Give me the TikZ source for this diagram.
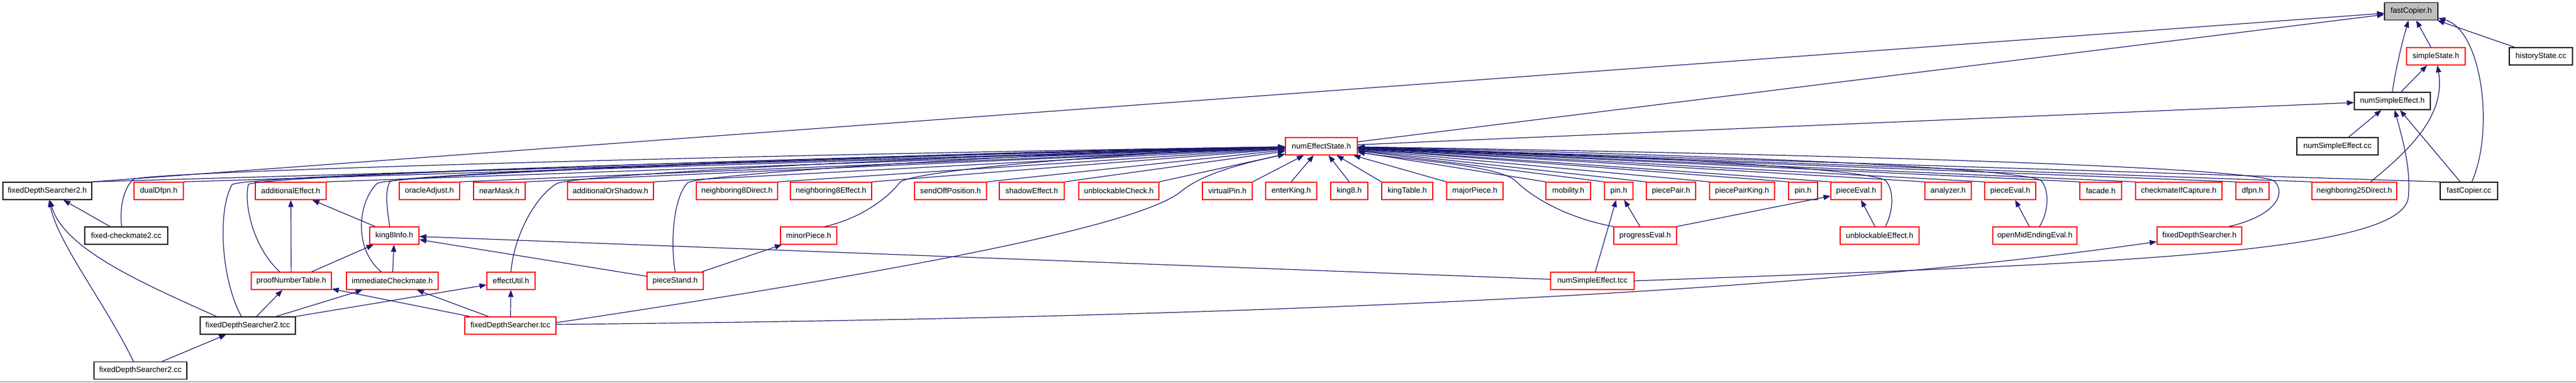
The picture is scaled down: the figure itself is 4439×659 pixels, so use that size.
\documentclass[tikz,border=0pt]{standalone}
\usepackage{fontspec}
\setmainfont{Liberation Sans}
\usetikzlibrary{arrows.meta}
\definecolor{edgeblue}{RGB}{25,25,112}
\definecolor{boxred}{RGB}{255,0,0}
\definecolor{boxgray}{RGB}{191,191,191}
\newcommand{\mybox}[5]{\node[#1,minimum width=#3pt] (#2) at (#4) {#5};}
\tikzset{
  fbox/.style={rectangle, minimum height=30pt, inner sep=0pt, fill=white, line width=1.4pt,
    font=\fontsize{13.3}{15}\selectfont},
  redbox/.style={fbox, draw=boxred},
  blkbox/.style={fbox, draw=black},
  graybox/.style={fbox, draw=black, fill=boxgray},
  edge/.style={draw=edgeblue, line width=1.2pt, -{Triangle[length=12pt,width=9pt]}}
}
\begin{document}
\begin{tikzpicture}[x=1pt,y=1pt]
\useasboundingbox[fill=white] (0,0) rectangle (4439,-659);
\draw[black!30, line width=1.5pt] (0,-658) -- (4439,-658);
% top nodes
\mybox{graybox}{fch}{92}{4155,-19.5}{fastCopier.h}
\mybox{redbox}{ss}{101}{4197.5,-97}{simpleState.h}
\mybox{blkbox}{hs}{109}{4378.5,-97}{historyState.cc}
\mybox{blkbox}{nseh}{131}{4122.5,-174}{numSimpleEffect.h}
\mybox{redbox}{nes}{124}{2277,-252}{numEffectState.h}
\mybox{blkbox}{nsecc}{140}{4028,-252}{numSimpleEffect.cc}
% row E
\mybox{blkbox}{fdstwoh}{153}{81.5,-329}{fixedDepthSearcher2.h}
\mybox{redbox}{dualdfpn}{85}{273.5,-329}{dualDfpn.h}
\mybox{redbox}{addeff}{122}{501,-329}{additionalEffect.h}
\mybox{redbox}{oracle}{104}{740,-329}{oracleAdjust.h}
\mybox{redbox}{nearmask}{89}{860.5,-329}{nearMask.h}
\mybox{redbox}{addshadow}{148}{1052,-329}{additionalOrShadow.h}
\mybox{redbox}{nbdirect}{140}{1270,-329}{neighboring8Direct.h}
\mybox{redbox}{nbeffect}{140}{1432,-329}{neighboring8Effect.h}
\mybox{redbox}{sendoff}{124}{1638,-329}{sendOffPosition.h}
\mybox{redbox}{shadoweff}{112}{1778,-329}{shadowEffect.h}
\mybox{redbox}{unbcheck}{138}{1928,-329}{unblockableCheck.h}
\mybox{redbox}{vpin}{86}{2115,-329}{virtualPin.h}
\mybox{redbox}{enterking}{88}{2225,-329}{enterKing.h}
\mybox{redbox}{kingeight}{64}{2325,-329}{king8.h}
\mybox{redbox}{kingtable}{88}{2425,-329}{kingTable.h}
\mybox{redbox}{majorpiece}{97}{2541.5,-329}{majorPiece.h}
\mybox{redbox}{mobility}{77}{2702.5,-329}{mobility.h}
\mybox{redbox}{pinA}{49}{2789.5,-329}{pin.h}
\mybox{redbox}{piecepair}{85}{2879.5,-329}{piecePair.h}
\mybox{redbox}{piecepairking}{112}{3002,-329}{piecePairKing.h}
\mybox{redbox}{pinB}{50}{3107,-329}{pin.h}
\mybox{redbox}{pevalA}{87}{3198.5,-329}{pieceEval.h}
\mybox{redbox}{analyzer}{80}{3357,-329}{analyzer.h}
\mybox{redbox}{pevalB}{88}{3464,-329}{pieceEval.h}
\mybox{redbox}{facade}{72}{3620,-329}{facade.h}
\mybox{redbox}{cmcap}{149}{3754.5,-329}{checkmateIfCapture.h}
\mybox{redbox}{dfpn}{57}{3881.5,-329}{dfpn.h}
\mybox{redbox}{nbtwentyfive}{146}{4057,-329}{neighboring25Direct.h}
\mybox{blkbox}{fccc}{99}{4254.5,-329}{fastCopier.cc}
% row F
\mybox{blkbox}{fcm}{143}{217.5,-406}{fixed-checkmate2.cc}
\mybox{redbox}{keinfo}{85}{679.5,-406}{king8Info.h}
\mybox{redbox}{minor}{97}{1393.5,-406}{minorPiece.h}
\mybox{redbox}{progress}{108}{2835,-406}{progressEval.h}
\mybox{redbox}{unbeff}{136}{3239,-406}{unblockableEffect.h}
\mybox{redbox}{omee}{145}{3506.5,-406}{openMidEndingEval.h}
\mybox{redbox}{fdsh}{146}{3790,-406}{fixedDepthSearcher.h}
% row G
\mybox{redbox}{pnt}{138}{502,-484}{proofNumberTable.h}
\mybox{redbox}{imm}{158}{676,-484}{immediateCheckmate.h}
\mybox{redbox}{eutil}{83}{880.5,-484}{effectUtil.h}
\mybox{redbox}{pstand}{97}{1163.5,-484}{pieceStand.h}
\mybox{redbox}{nsetcc}{144}{2744,-484}{numSimpleEffect.tcc}
% row H, I
\mybox{blkbox}{fdstwotcc}{164}{427,-561}{fixedDepthSearcher2.tcc}
\mybox{redbox}{fdstcc}{157}{879.5,-561}{fixedDepthSearcher.tcc}
\mybox{blkbox}{fdstwocc}{160}{242,-638.5}{fixedDepthSearcher2.cc}

% edges into numEffectState.h from row E
\foreach \n in {fdstwoh,dualdfpn,addeff,oracle,nearmask,addshadow,nbdirect,nbeffect,sendoff,shadoweff,unbcheck,vpin}
  \draw[edge] (\n.north east) -- (nes);
\foreach \n in {enterking,kingeight}
  \draw[edge] (\n.north) -- (nes);
\foreach \n in {kingtable,majorpiece,mobility,pinA,piecepair,piecepairking,pinB,pevalA,analyzer,pevalB,facade,cmcap,dfpn,nbtwentyfive,fccc}
  \draw[edge] (\n.north west) -- (nes);

% curved edges into numEffectState.h from lower rows
\draw[edge] ([xshift=-11pt]fdstwotcc.north) .. controls (380,-480) and (375,-360) .. (400,-318) .. controls (430,-300) and (1500,-270) .. (nes);
\draw[edge] ([xshift=-20pt]pnt.north) .. controls (435,-425) and (420,-350) .. (428,-318) .. controls (436,-302) and (1500,-268) .. (nes);
\draw[edge] ([xshift=-19pt]imm.north) .. controls (610,-430) and (615,-350) .. (650,-316) .. controls (680,-300) and (1600,-265) .. (nes);
\draw[edge] ([xshift=-8pt]keinfo.north) .. controls (668,-365) and (662,-330) .. (672,-313) .. controls (685,-300) and (1600,-262) .. (nes);
\draw[edge] (eutil.north) .. controls (885,-410) and (920,-340) .. (960,-316) .. controls (1000,-300) and (1700,-265) .. (nes);
\draw[edge] (pstand.north) .. controls (1155,-420) and (1160,-340) .. (1185,-315) .. controls (1205,-300) and (1800,-262) .. (nes);
\draw[edge] ([xshift=28pt]minor.north) .. controls (1490,-375) and (1535,-335) .. (1550,-315) .. controls (1565,-295) and (1900,-265) .. (nes);
\draw[edge] ([yshift=5pt]fdstcc.east) .. controls (1400,-490) and (1950,-400) .. (2035,-330) .. controls (2075,-297) and (2150,-280) .. (nes);
\draw[edge] (progress.north west) .. controls (2710,-378) and (2645,-345) .. (2612,-312) .. controls (2585,-285) and (2420,-275) .. (nes);
\draw[edge] ([xshift=10pt]unbeff.north) .. controls (3262,-365) and (3265,-330) .. (3250,-312) .. controls (3235,-294) and (2900,-270) .. (nes);
\draw[edge] ([xshift=8pt]omee.north) .. controls (3530,-365) and (3532,-330) .. (3518,-312) .. controls (3503,-294) and (3100,-270) .. (nes);
\draw[edge] ([xshift=51pt]fdsh.north) .. controls (3920,-372) and (3940,-335) .. (3920,-313) .. controls (3905,-293) and (3400,-270) .. (nes);
\draw[edge] ([xshift=-8pt]fcm.north) .. controls (206,-360) and (212,-325) .. (230,-309) .. controls (250,-296) and (1200,-268) .. (nes);

% top part
\draw[edge] (fdstwoh.north east) -- (fch);
\draw[edge] (nes) -- (fch);
\draw[edge] (nes) -- (nseh);
\draw[edge] (ss) -- (fch);
\draw[edge] (hs) -- (fch);
\draw[edge] (nseh.north) .. controls (4128,-120) and (4140,-70) .. (fch);
\draw[edge] ([xshift=15pt]nseh.north) -- (ss);
\draw[edge] ([xshift=5pt]fccc.north) .. controls (4300,-220) and (4275,-50) .. (fch);
\draw[edge] ([xshift=-15pt]fccc.north) -- (nseh);
\draw[edge] ([xshift=28pt]nbtwentyfive.north) .. controls (4150,-260) and (4215,-200) .. (ss);
\draw[edge] (nsecc) -- (nseh);
\draw[edge] (nsetcc.east) .. controls (3600,-455) and (4140,-440) .. (4150,-340) .. controls (4155,-290) and (4140,-240) .. (nseh);
\draw[edge] ([yshift=2pt]fdstcc.east) .. controls (1900,-550) and (3000,-520) .. (fdsh);

% lower left
\draw[edge] ([xshift=-12pt]fdstwocc.north) .. controls (180,-520) and (100,-420) .. (fdstwoh);
\draw[edge] ([xshift=-54pt]fdstwotcc.north) .. controls (250,-490) and (110,-430) .. (fdstwoh);
\draw[edge] ([xshift=-28pt]fcm.north) -- (fdstwoh);
\draw[edge] (fdstwocc) -- (fdstwotcc);
\draw[edge] ([xshift=15pt]fdstwotcc.north) -- (pnt);
\draw[edge] ([xshift=49pt]fdstwotcc.north) -- (imm);
\draw[edge] (fdstwotcc.north east) -- (eutil);
\draw[edge] ([xshift=-70pt]fdstcc.north) -- (pnt);
\draw[edge] ([xshift=-38pt]fdstcc.north) -- (imm);
\draw[edge] (fdstcc) -- (eutil);
\draw[edge] (pnt) -- (addeff);
\draw[edge] ([xshift=35pt]pnt.north) -- (keinfo);
\draw[edge] (imm) -- (keinfo);
\draw[edge] ([xshift=-33pt]keinfo.north) -- (addeff);
\draw[edge] (pstand) -- (minor);
\draw[edge] (pstand) -- (keinfo);
\draw[edge] (nsetcc) -- (keinfo);
\draw[edge] ([xshift=5pt]nsetcc.north) -- (pinA);
\draw[edge] ([xshift=-9pt]progress.north) -- (pinA);
\draw[edge] (progress.north east) -- (pevalA);
\draw[edge] ([xshift=-8pt]unbeff.north) -- (pevalA);
\draw[edge] ([xshift=-9.5pt]omee.north) -- (pevalB);
\end{tikzpicture}
\end{document}
